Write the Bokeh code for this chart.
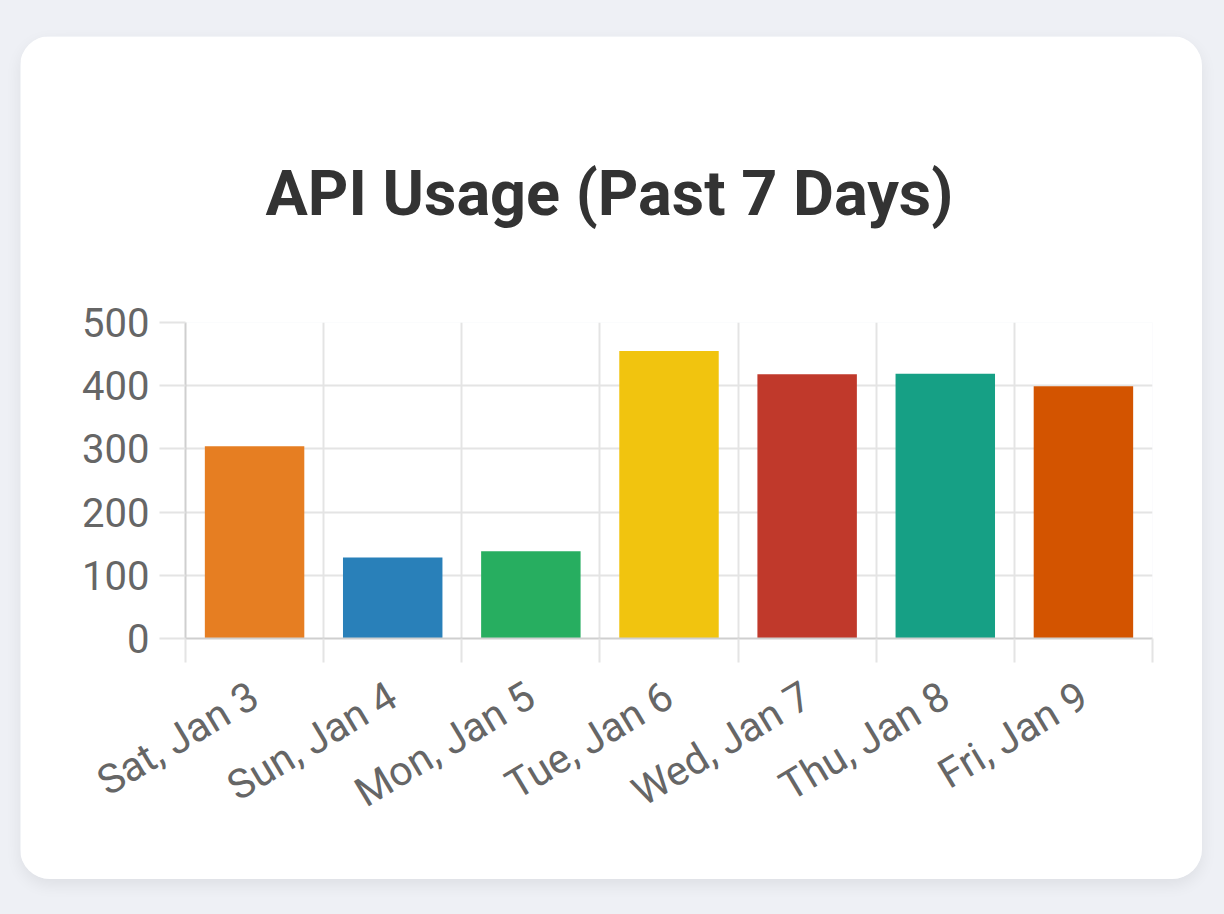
import math
from bokeh.plotting import figure
from bokeh.models import Range1d, LinearAxis, FixedTicker, Grid, Title
from bokeh.layouts import column
from bokeh.embed import file_html
from bokeh.resources import INLINE

days = ["Sat, Jan 3", "Sun, Jan 4", "Mon, Jan 5", "Tue, Jan 6", "Wed, Jan 7", "Thu, Jan 8", "Fri, Jan 9"]
calls = [304, 128, 138, 455, 418, 419, 399]
colors = ["#e67e22", "#2980b9", "#27ae60", "#f1c40f", "#c0392b", "#16a085", "#d35400"]
y_ticks = [0, 100, 200, 300, 400, 500]

FONT = "Roboto"
GRID = "#e4e4e4"
AXIS = "#cfcfcf"
LABEL = "#666666"

centers = [i + 0.5 for i in range(len(days))]
bounds = list(range(len(days) + 1))

p = figure(width=1182, height=843,
           x_range=Range1d(0, len(days)), y_range=Range1d(y_ticks[0], y_ticks[-1]),
           x_axis_type=None, y_axis_type=None,
           output_backend="svg", toolbar_location=None,
           min_border_left=165, min_border_right=50, min_border_top=286, min_border_bottom=241,
           background_fill_color="white", border_fill_color="white", outline_line_color=None)

p.title = Title(text="API Usage (Past 7 Days)", align="left", text_font=FONT,
                text_font_size="63px", text_font_style="bold", text_color="#333333",
                standoff=186, offset=80)

# y axis
yaxis = LinearAxis(ticker=FixedTicker(ticks=y_ticks))
yaxis.axis_line_color = AXIS
yaxis.axis_line_width = 2
yaxis.major_tick_line_color = GRID
yaxis.major_tick_line_width = 2
yaxis.major_tick_out = 26
yaxis.major_tick_in = 0
yaxis.minor_tick_line_color = None
yaxis.major_label_text_font = FONT
yaxis.major_label_text_font_size = "40px"
yaxis.major_label_text_color = LABEL
yaxis.major_label_standoff = 10
p.add_layout(yaxis, "left")

# x axis: labels at category centres, boundary ticks as minor ticks
xaxis = LinearAxis(ticker=FixedTicker(ticks=centers, minor_ticks=bounds))
xaxis.major_label_overrides = {c: d for c, d in zip(centers, days)}
xaxis.axis_line_color = AXIS
xaxis.axis_line_width = 2
xaxis.major_tick_line_color = None
xaxis.major_tick_out = 24
xaxis.major_tick_in = 0
xaxis.minor_tick_line_color = GRID
xaxis.minor_tick_line_width = 2
xaxis.minor_tick_out = 24
xaxis.minor_tick_in = 0
xaxis.major_label_orientation = math.radians(31)
xaxis.major_label_text_font = FONT
xaxis.major_label_text_font_size = "41px"
xaxis.major_label_text_color = LABEL
xaxis.major_label_standoff = 30
p.add_layout(xaxis, "below")

p.add_layout(Grid(dimension=1, ticker=yaxis.ticker, grid_line_color=GRID, grid_line_width=2), "center")
p.add_layout(Grid(dimension=0, ticker=FixedTicker(ticks=bounds), grid_line_color=GRID, grid_line_width=2), "center")

p.vbar(x=centers, top=calls, width=0.72, fill_color=colors, line_color=None)

p.styles = {"border-radius": "30px", "overflow": "hidden",
            "box-shadow": "0 6px 16px rgba(0,0,0,0.07)"}

layout = column(p, width=1224, height=914,
                styles={"background-color": "#eef0f5", "padding-left": "20px", "padding-top": "36px"})

open("out.html", "w").write(file_html(layout, INLINE))
